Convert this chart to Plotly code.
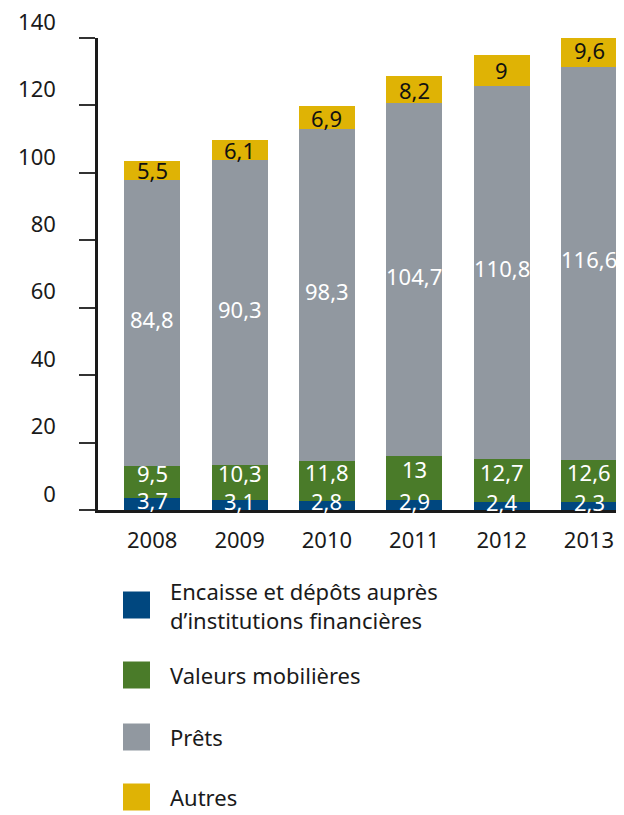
import plotly.graph_objects as go

years = ["2008", "2009", "2010", "2011", "2012", "2013"]
series_names = [
    "Encaisse et dépôts auprès<br>d’institutions financières",
    "Valeurs mobilières",
    "Prêts",
    "Autres",
]
encaisse = [3.7, 3.1, 2.8, 2.9, 2.4, 2.3]
valeurs = [9.5, 10.3, 11.8, 13, 12.7, 12.6]
prets = [84.8, 90.3, 98.3, 104.7, 110.8, 116.6]
autres = [5.5, 6.1, 6.9, 8.2, 9, 9.6]
y_ticks = [0, 20, 40, 60, 80, 100, 120, 140]

colors = ["#00477f", "#4a7b29", "#9198a0", "#dfb305"]
text_colors = ["white", "white", "white", "#111111"]
label_shift = [4, 9, 4, 0]  # labels sit a bit high in the original
FONT = "Noto Sans"
FS = 22

# the page body adds an 8px margin, so everything is laid out 8px up/left
OFF = 8
W, H = 624, 815
L, R, T, B = 98 - OFF, 7 + OFF, 38 - OFF, 305 + OFF


def fr(v):
    return f"{v:g}".replace(".", ",")


fig = go.Figure()
base = [0.0] * len(years)
for name, vals, col, tcol, sh in zip(series_names, [encaisse, valeurs, prets, autres],
                                     colors, text_colors, label_shift):
    fig.add_trace(go.Bar(x=years, y=vals, name=name, marker_color=col,
                         marker_line_width=0, showlegend=False, hoverinfo="y+name"))
    # category axis: annotations take the category index
    for i, v in enumerate(vals):
        fig.add_annotation(x=i, y=base[i] + v / 2, xref="x", yref="y",
                           text=fr(v), showarrow=False, yshift=sh,
                           font=dict(family=FONT, size=FS, color=tcol))
        base[i] += v

# hand-made legend with large squares
pw, ph = W - L - R, H - T - B


def px_x(p):
    return (p - OFF - L) / pw


def px_y(p):
    return (H - B - (p - OFF)) / ph


legend_y = [605, 675, 737, 797]
for name, col, cy in zip(series_names, colors, legend_y):
    fig.add_shape(type="rect", xref="paper", yref="paper",
                  x0=px_x(123), x1=px_x(150), y0=px_y(cy - 13.5), y1=px_y(cy + 13.5),
                  fillcolor=col, line_width=0)
    fig.add_annotation(xref="paper", yref="paper", x=px_x(168), y=px_y(cy),
                       text=name, showarrow=False, xanchor="left", yanchor="middle",
                       align="left", font=dict(family=FONT, size=FS, color="#1a1a1a"))

fig.update_layout(
    width=W, height=H,
    margin=dict(l=L, r=R, t=T, b=B, autoexpand=False),
    barmode="stack", bargap=0.36,
    plot_bgcolor="white", paper_bgcolor="white",
    font=dict(family=FONT, size=FS, color="#1a1a1a"),
)
fig.update_xaxes(
    type="category", range=[-0.62, 5.32], showline=True, linecolor="#1a1a1a",
    linewidth=2.5, ticks="", showgrid=False, automargin=False,
    tickfont=dict(family=FONT, size=FS, color="#1a1a1a"),
    ticklabelstandoff=9,
)
fig.update_yaxes(
    range=[0, 140], tickvals=y_ticks, showline=True, linecolor="#1a1a1a", linewidth=2.5,
    ticks="outside", ticklen=16, tickwidth=1.5, tickcolor="#333333",
    showgrid=False, zeroline=False, automargin=False,
    tickfont=dict(family=FONT, size=FS, color="#1a1a1a"),
    ticklabelstandoff=19, ticklabelshift=-16, ticklabeloverflow="allow",
)

fig.write_html("out.html")
